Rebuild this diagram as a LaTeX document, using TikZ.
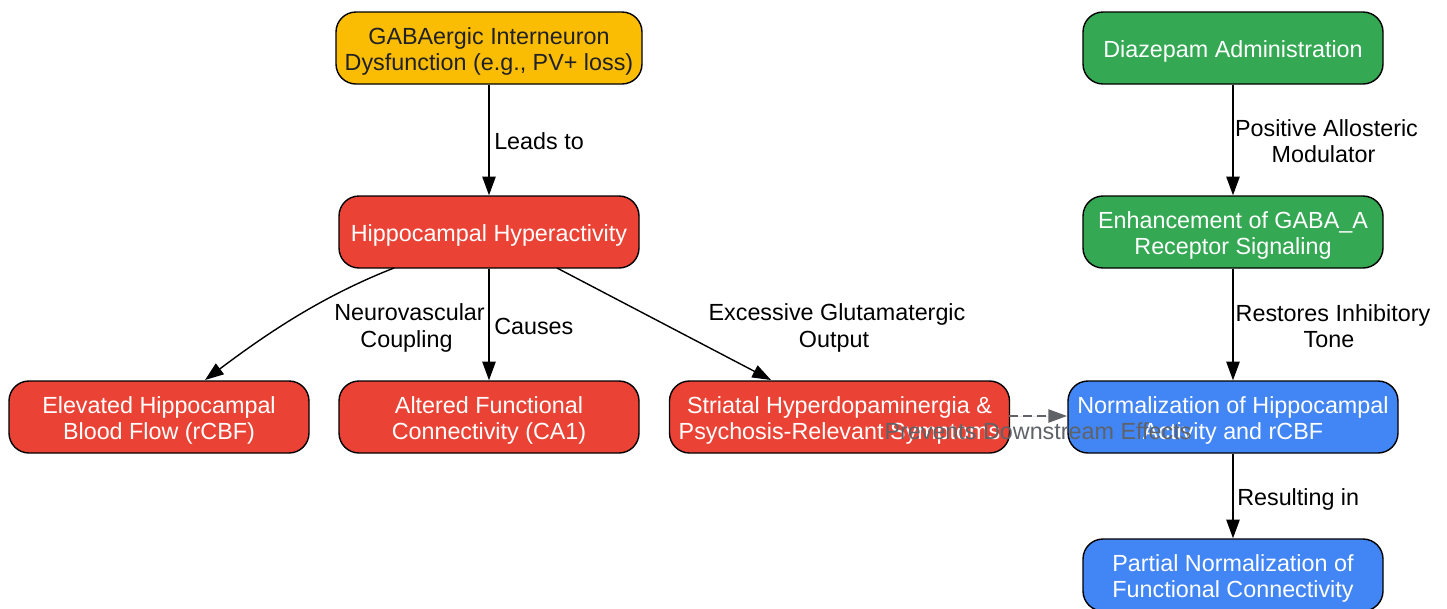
\documentclass[tikz,border=0pt]{standalone}
\usepackage{fontspec}
\setmainfont{Liberation Sans}
\usetikzlibrary{arrows.meta}
\definecolor{cyel}{HTML}{FBBC04}
\definecolor{cred}{HTML}{EA4335}
\definecolor{cgrn}{HTML}{34A853}
\definecolor{cblu}{HTML}{4285F4}
\definecolor{ctxt}{HTML}{202124}
\definecolor{cgry}{HTML}{5F6368}
\newlength{\pxu}
\setlength{\pxu}{0.75pt}
\tikzset{x=\pxu,y=-\pxu,
 box/.style={draw=black,line width=1.05pt,rounded corners=15pt,minimum height=72\pxu,inner sep=0pt,align=center,font=\fontsize{17.5pt}{19.6pt}\selectfont,text=white,
   execute at end node={\rule[-4pt]{0pt}{0pt}}},
 onel/.style={box,execute at begin node={\rule{0pt}{18.5pt}}},
 twol/.style={box,execute at begin node={\rule{0pt}{38.2pt}}},
 lab/.style={align=center,inner sep=0pt,font=\fontsize{17.5pt}{19.6pt}\selectfont,text=black},
 conn/.style={draw=black,line width=1.05pt,-{Stealth[length=14pt,width=10pt,inset=0pt]}},
}
\begin{document}
\begin{tikzpicture}
\useasboundingbox (0,0) rectangle (1447,608);
\node[twol,fill=cyel,text=ctxt,minimum width=306\pxu] (gaba) at (489,48) {GABAergic Interneuron\\Dysfunction (e.g., PV+ loss)};
\node[onel,fill=cred,minimum width=300\pxu] (hyper) at (489,232) {Hippocampal Hyperactivity};
\node[twol,fill=cred,minimum width=300\pxu] (blood) at (159,417) {Elevated Hippocampal\\Blood Flow (rCBF)};
\node[twol,fill=cred,minimum width=300\pxu] (conn) at (489,417) {Altered Functional\\Connectivity (CA1)};
\node[twol,fill=cred,minimum width=340\pxu] (stri) at (839.5,417) {Striatal Hyperdopaminergia \&\\Psychosis-Relevant Symptoms};
\node[onel,fill=cgrn,minimum width=300\pxu] (diaz) at (1233,48) {Diazepam Administration};
\node[twol,fill=cgrn,minimum width=300\pxu] (enh) at (1233,232) {Enhancement of GABA\_A\\Receptor Signaling};
\node[twol,fill=cblu,minimum width=330\pxu] (norm) at (1233,417) {Normalization of Hippocampal\\Activity and rCBF};
\node[twol,fill=cblu,minimum width=300\pxu] (part) at (1233,575) {Partial Normalization of\\Functional Connectivity};
\coordinate (h1) at (394,268);
\coordinate (h2) at (557,268);
\coordinate (b1) at (205,380);
\coordinate (s1) at (771,380);
\coordinate (st) at (1009,416);
\coordinate (nt) at (1067,416);
\draw[conn] (gaba) -- (hyper);
\draw[conn] (hyper) -- (conn);
\draw[conn] (h1) .. controls (320,297) and (265,335) .. (b1);
\draw[conn] (h2) -- (s1);
\draw[conn] (diaz) -- (enh);
\draw[conn] (enh) -- (norm);
\draw[conn] (norm) -- (part);
\draw[conn,draw=cgry,fill=cgry,dash pattern=on 7pt off 3.5pt] (st) -- (nt);
\node[lab,anchor=west] at (494,141.5) (l1) {Leads to};
\node[lab] at (409.5,328) (l2) {Neurovascular\\Coupling\hspace*{4.5pt}};
\node[lab,anchor=west] at (494,326) (l3) {Causes};
\node[lab] at (837,328) (l4) {Excessive Glutamatergic\\Output\hspace*{4.5pt}};
\node[lab] at (1326.5,141) (l5) {Positive Allosteric\\Modulator\hspace*{4.5pt}};
\node[lab] at (1333,326) (l6) {Restores Inhibitory\\Tone\hspace*{6pt}};
\node[lab,anchor=west] at (1237,499) (l7) {Resulting in};
\node[lab,text=cgry] at (1038,431) (l8) {Prevents Downstream Effects};
\end{tikzpicture}
\end{document}
